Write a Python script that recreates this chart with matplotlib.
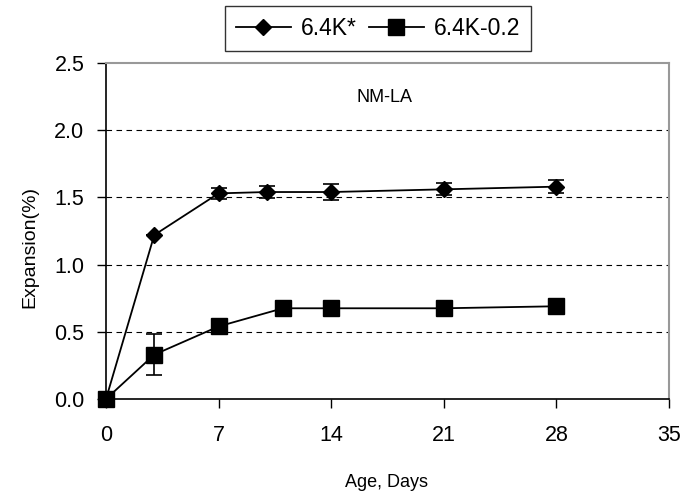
import matplotlib
matplotlib.use("Agg")
from matplotlib import pyplot as plt

plt.rcParams['font.family'] = ['Liberation Sans', 'DejaVu Sans']

# 数据
days_k = [0, 3, 7, 10, 14, 21, 28]
exp_k = [0.0, 1.22, 1.53, 1.54, 1.54, 1.56, 1.58]
err_k = [0.0, 0.0, 0.04, 0.045, 0.06, 0.045, 0.05]

days_k02 = [0, 3, 7, 11, 14, 21, 28]
exp_k02 = [0.0, 0.33, 0.54, 0.675, 0.675, 0.675, 0.69]
err_k02 = [0.0, 0.15, 0.02, 0.02, 0.01, 0.02, 0.02]

x_ticks = [0, 7, 14, 21, 28, 35]
y_ticks = [0.0, 0.5, 1.0, 1.5, 2.0, 2.5]

fig = plt.figure(figsize=(6.85, 4.95), dpi=100)
ax = fig.add_axes([106 / 685, 1 - 399 / 495, (669 - 106) / 685, (399 - 63) / 495])

# 网格线
for y in y_ticks[1:-1]:
    ax.axhline(y, color='black', lw=0.8, ls=(0, (5, 4)), zorder=1)

# 误差线
ax.errorbar(days_k, exp_k, yerr=err_k, fmt='none', ecolor='black',
            capsize=6, capthick=1.2, elinewidth=1.2, zorder=2)
ax.errorbar(days_k02, exp_k02, yerr=err_k02, fmt='none', ecolor='black',
            capsize=6, capthick=1.2, elinewidth=1.2, zorder=2)

ax.plot(days_k, exp_k, color='black', lw=1.3, marker='D', markersize=8.5,
        label='6.4K*', zorder=3, clip_on=False)
ax.plot(days_k02, exp_k02, color='black', lw=1.3, marker='s', markersize=11,
        label='6.4K-0.2', zorder=3, clip_on=False)

ax.set_xlim(0, 35)
ax.set_ylim(0, 2.5)
ax.set_xticks(x_ticks)
ax.set_yticks(y_ticks)
ax.set_yticklabels(['%.1f' % v for v in y_ticks])
ax.tick_params(direction='out', length=6.5, width=1, labelsize=15.5)
ax.tick_params(axis='x', pad=12)
ax.tick_params(axis='y', pad=9)

for s in ['top', 'right']:
    ax.spines[s].set_color('#999999')
    ax.spines[s].set_linewidth(1.5)
for s in ['left', 'bottom']:
    ax.spines[s].set_color('black')
    ax.spines[s].set_linewidth(1.2)

ax.text(17.3, 2.24, 'NM-LA', fontsize=13, ha='center', va='center')
ax.set_xlabel('Age, Days', fontsize=13)
ax.set_ylabel('Expansion(%)', fontsize=14)
ax.xaxis.set_label_coords(0.499, -0.224)
ax.yaxis.set_label_coords(-0.121, 0.452)

leg = ax.legend(loc='upper center', bbox_to_anchor=(378 / 685, 1 - 6 / 495),
                bbox_transform=fig.transFigure, ncol=2, fontsize=16.5,
                frameon=True, fancybox=False, edgecolor='black',
                handlelength=2.4, columnspacing=0.52, handletextpad=0.44,
                borderpad=0.48, borderaxespad=0)
leg.get_frame().set_linewidth(1.0)

fig.savefig('out.png', dpi=100)
